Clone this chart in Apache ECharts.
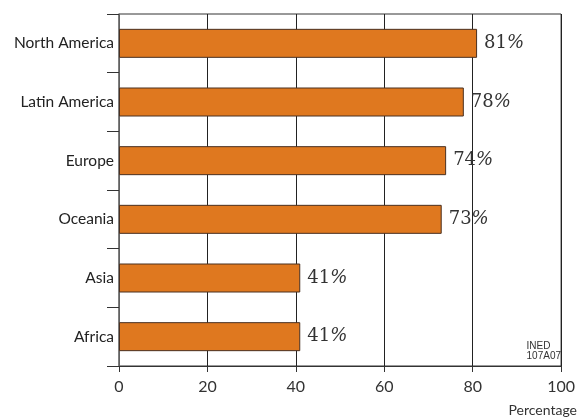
<!DOCTYPE html>
<html><head><meta charset="utf-8">
<script src="https://cdn.jsdelivr.net/npm/echarts@6/dist/echarts.min.js"></script>
<style>html,body{margin:0;padding:0;background:#fff}#c{width:578px;height:419px}</style>
</head><body><div id="c"></div>
<script>
const categories = ["North America","Latin America","Europe","Oceania","Asia","Africa"];
const values = [81,78,74,73,41,41];
const xTicks = [0,20,40,60,80,100];
const xLabel = "Percentage";
const sourceNote = "INED\n107A07";

const chart = echarts.init(document.getElementById('c'));
chart.setOption({
  animation:false,
  grid:{left:119,right:14,top:14,bottom:53,show:true,borderColor:'#333',borderWidth:1,backgroundColor:'transparent'},
  xAxis:{type:'value',min:xTicks[0],max:xTicks[xTicks.length-1],interval:20,
    axisLine:{show:true,lineStyle:{color:'#333',width:1}},
    axisTick:{show:true,length:6,lineStyle:{color:'#333'}},
    axisLabel:{fontFamily:'Lato',fontSize:16,color:'#333',margin:13},
    splitLine:{show:true,lineStyle:{color:'#222',width:1}}},
  yAxis:{type:'category',data:categories,inverse:true,
    axisLine:{show:true,lineStyle:{color:'#777',width:1.5}},
    axisTick:{show:true,length:12,inside:false,lineStyle:{color:'#333'}},
    axisLabel:{fontFamily:'Lato',fontSize:15.5,color:'#222',margin:5},
    splitLine:{show:false}},
  series:[{type:'bar',data:values,barWidth:29,
    itemStyle:{color:'#DF781F',borderColor:'#4a3020',borderWidth:1},
    label:{show:true,position:'right',distance:7,
      formatter:p=>'{n|'+p.value+'}{p|%}',
      rich:{n:{fontFamily:'DejaVu Serif',fontSize:18,color:'#333'},
            p:{fontFamily:'DejaVu Serif',fontStyle:'italic',fontSize:18,color:'#333'}}}}],
  graphic:[
    {type:'text',right:17,top:341,style:{text:sourceNote,align:'right',fontFamily:'Liberation Sans Narrow, Liberation Sans',fontSize:10,lineHeight:10,fill:'#333'}},
    {type:'text',right:1,top:403,style:{text:xLabel,fontFamily:'Lato',fontSize:14,fill:'#333'}}
  ]
});
</script></body></html>
